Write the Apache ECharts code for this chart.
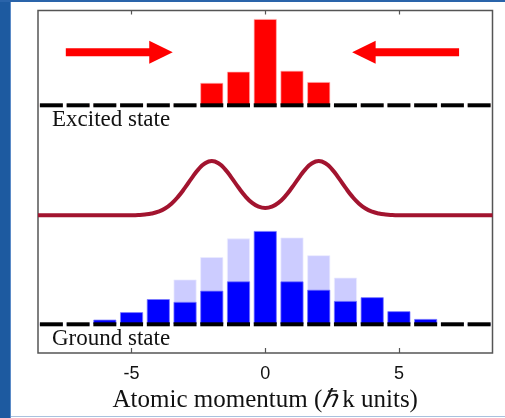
<!DOCTYPE html>
<html>
<head>
<meta charset="utf-8">
<style>
  html, body { margin: 0; padding: 0; background: #ffffff; }
  #displayChart { width: 505px; height: 418px; }
</style>
<script src="https://cdn.jsdelivr.net/npm/echarts@6.0.0/dist/echarts.min.js"></script>
</head>
<body>
<div id="displayChart"></div>
<script>
// Positions des barres (unités de hbar k)
const positions = [ -8, -7, -6, -5, -4, -3, -2, -1, 0, 1, 2, 3, 4, 5, 6, 7, 8 ];
// Population de l'état excité (relative à la barre centrale)
const excitedPop = [ 0, 0, 0, 0, 0, 0, 0.26, 0.39, 1.0, 0.40, 0.27, 0, 0, 0, 0, 0, 0 ];
// Population de l'état fondamental : avant (clair) et après (foncé)
const groundBefore = [ '-', '-', '-', '-', '-', 0.48, 0.72, 0.92, '-', 0.93, 0.74, 0.50, '-', '-', '-', '-', '-' ];
const groundAfter = [ 0, 0.004, 0.05, 0.13, 0.27, 0.24, 0.36, 0.46, 1.0, 0.46, 0.37, 0.25, 0.29, 0.14, 0.057, 0.014, 0 ];
// Profil du potentiel (courbe à deux bosses)
const curveX = [ -8.5, -5.5, -5.25, -5, -4.75, -4.5, -4.25, -4, -3.75, -3.5, -3.25, -3, -2.75, -2.5, -2.25, -2, -1.75, -1.5, -1.25, -1, -0.75, -0.5, -0.25, 0,
  0.25, 0.5, 0.75, 1, 1.25, 1.5, 1.75, 2, 2.25, 2.5, 2.75, 3, 3.25, 3.5, 3.75, 4, 4.25, 4.5, 4.75, 5, 5.25, 5.5, 8.5 ];
const curveY = [ 0, 0, 0.001, 0.002, 0.006, 0.015, 0.033, 0.067, 0.126, 0.219, 0.348, 0.509, 0.684, 0.845, 0.959, 1.0, 0.959, 0.845, 0.685, 0.511, 0.354, 0.233, 0.159, 0.134,
  0.159, 0.233, 0.354, 0.511, 0.685, 0.845, 0.959, 1.0, 0.959, 0.845, 0.684, 0.509, 0.348, 0.219, 0.126, 0.067, 0.033, 0.015, 0.006, 0.002, 0.001, 0, 0 ];
// Flèches : [départ, pointe, hauteur]
const arrows = [ [ -7.46, -3.46, 0.614 ], [ 7.25, 3.25, 0.614 ] ];
// Graduations de l'axe
const tickValues = [ -5, 0, 5 ];
const xMin = -8.5;
const xMax = 8.5;

const chartDom = document.getElementById( 'displayChart' );
const myChart = echarts.init( chartDom, null, { renderer: 'canvas' } );

const serifFont = 'Liberation Serif';
const barW = 23;

function pairs ( xs, ys ) {
  return xs.map( ( x, i ) => [ x, ys[ i ] ] );
}

function hiddenX ( gridIndex ) {
  return { type: 'value', gridIndex: gridIndex, min: xMin, max: xMax, show: false };
}

function hiddenY ( gridIndex ) {
  return { type: 'value', gridIndex: gridIndex, min: 0, max: 1, show: false };
}

// Dessine une flèche horizontale à partir des coordonnées de l'axe
function renderArrow ( params, api ) {
  const p0 = api.coord( [ api.value( 0 ), api.value( 2 ) ] );
  const p1 = api.coord( [ api.value( 1 ), api.value( 2 ) ] );
  const dir = p1[ 0 ] > p0[ 0 ] ? 1 : -1;
  const headLen = 23.5;
  const headHalf = 11.5;
  const shaftHalf = 4;
  const yc = p0[ 1 ];
  const xb = p1[ 0 ] - dir * headLen;
  return {
    type: 'polygon',
    shape: {
      points: [
        [ p0[ 0 ], yc - shaftHalf ], [ xb, yc - shaftHalf ], [ xb, yc - headHalf ],
        [ p1[ 0 ], yc ], [ xb, yc + headHalf ], [ xb, yc + shaftHalf ], [ p0[ 0 ], yc + shaftHalf ]
      ]
    },
    style: { fill: '#ff0000' }
  };
}

const option = {
  animation: false,
  backgroundColor: '#ffffff',
  grid: [
    // cadre principal
    { left: 38, right: 12.5, top: 10.5, bottom: 63, show: true, borderColor: '#555555', borderWidth: 1.5, backgroundColor: 'transparent' },
    // état excité
    { left: 38, right: 12.5, top: 19, bottom: 312.7 },
    // courbe
    { left: 38, right: 12.5, top: 161, bottom: 202.7 },
    // état fondamental
    { left: 38, right: 12.5, top: 231, bottom: 93.7 }
  ],
  xAxis: [
    {
      type: 'value', gridIndex: 0, min: xMin, max: xMax, position: 'bottom',
      splitLine: { show: false },
      axisLine: { show: false },
      axisTick: { show: true, inside: true, length: 5, customValues: tickValues, lineStyle: { color: '#555555', width: 1.2 } },
      axisLabel: { customValues: tickValues, margin: 12, color: '#111111', fontSize: 18, fontFamily: 'Liberation Sans' },
      name: 'Atomic momentum ({i|ℏ\u2009}k units)',
      nameLocation: 'middle',
      nameGap: 35,
      nameTextStyle: {
        color: '#111111', fontSize: 25, fontFamily: serifFont,
        rich: { i: { fontStyle: 'italic', fontSize: 25, fontFamily: serifFont, color: '#111111' } }
      }
    },
    {
      type: 'value', gridIndex: 0, min: xMin, max: xMax, position: 'top',
      splitLine: { show: false },
      axisLine: { show: false },
      axisTick: { show: true, inside: true, length: 4, customValues: tickValues, lineStyle: { color: '#555555', width: 1.2 } },
      axisLabel: { show: false }
    },
    hiddenX( 1 ), hiddenX( 2 ), hiddenX( 3 )
  ],
  yAxis: [
    { type: 'value', gridIndex: 0, min: 0, max: 1, show: false },
    hiddenY( 1 ), hiddenY( 2 ), hiddenY( 3 )
  ],
  series: [
    {
      type: 'bar', xAxisIndex: 2, yAxisIndex: 1, barWidth: barW,
      data: pairs( positions, excitedPop ),
      itemStyle: { color: '#ff0000', borderColor: 'rgba(255,180,180,0.8)', borderWidth: 0.8 }
    },
    {
      type: 'custom', xAxisIndex: 2, yAxisIndex: 1,
      renderItem: renderArrow,
      data: arrows,
      clip: false
    },
    {
      type: 'line', xAxisIndex: 3, yAxisIndex: 2,
      data: pairs( curveX, curveY ),
      smooth: true, showSymbol: false, clip: false,
      lineStyle: { color: '#a2142f', width: 4 }
    },
    {
      type: 'bar', xAxisIndex: 4, yAxisIndex: 3, barWidth: barW, barGap: '-100%',
      data: pairs( positions, groundBefore ),
      itemStyle: { color: '#ccccff', borderColor: 'rgba(235,235,255,0.9)', borderWidth: 0.8 }
    },
    {
      type: 'bar', xAxisIndex: 4, yAxisIndex: 3, barWidth: barW, barGap: '-100%',
      data: pairs( positions, groundAfter ),
      itemStyle: { color: '#0000ff', borderColor: 'rgba(120,120,255,0.9)', borderWidth: 0.8 }
    },
    // tirets noirs de la ligne de base
    {
      type: 'scatter', xAxisIndex: 2, yAxisIndex: 1, symbol: 'rect', symbolSize: [ barW, 4 ],
      data: positions.map( ( x ) => [ x, 0 ] ), itemStyle: { color: '#000000', opacity: 1 }, z: 5, silent: true
    },
    {
      type: 'scatter', xAxisIndex: 4, yAxisIndex: 3, symbol: 'rect', symbolSize: [ barW, 4 ],
      data: positions.map( ( x ) => [ x, 0 ] ), itemStyle: { color: '#000000', opacity: 1 }, z: 5, silent: true
    }
  ],
  graphic: [
    // bordure bleue de la diapositive
    { type: 'rect', left: 0, top: 0, shape: { width: 10, height: 418 }, style: { fill: '#1d5aa0' } },
    { type: 'rect', left: 10, top: 0, shape: { width: 1, height: 418 }, style: { fill: '#5b8bc7' } },
    { type: 'rect', left: 0, top: 0, shape: { width: 505, height: 2 }, style: { fill: '#2a64aa' } },
    { type: 'rect', left: 11, top: 416, shape: { width: 494, height: 1 }, style: { fill: '#a9c1de' } },
    {
      type: 'text', x: 52, y: 120,
      style: { text: 'Excited state', fontSize: 23, fontFamily: serifFont, fill: '#111111', verticalAlign: 'middle' }
    },
    {
      type: 'text', x: 52, y: 339,
      style: { text: 'Ground state', fontSize: 23, fontFamily: serifFont, fill: '#111111', verticalAlign: 'middle' }
    }
  ]
};

myChart.setOption( option );
</script>
</body>
</html>
